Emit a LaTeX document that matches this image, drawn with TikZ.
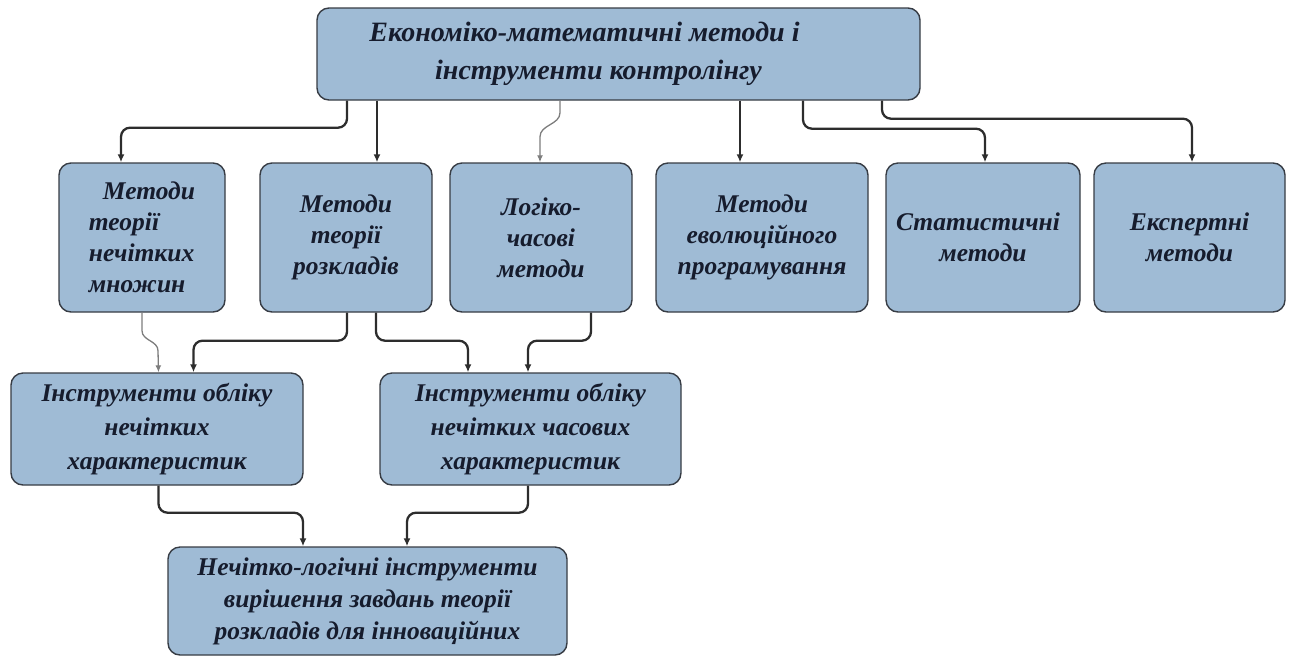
\documentclass[tikz,border=0pt]{standalone}
\usepackage{fontspec}
\setmainfont{Liberation Serif}
\usetikzlibrary{arrows.meta}
\definecolor{boxfill}{RGB}{159,187,213}
\definecolor{boxline}{RGB}{55,60,68}
\definecolor{linecol}{RGB}{45,45,45}
\definecolor{greyline}{RGB}{125,125,125}
\definecolor{textcol}{RGB}{22,28,45}
\tikzstyle{box}=[rectangle,rounded corners=12pt,draw=boxline,fill=boxfill,line width=1.4pt,inner sep=0pt,align=center,text=textcol]
\tikzstyle{rootbox}=[box,minimum width=603pt,minimum height=92pt,font=\bfseries\itshape\fontsize{28}{38}\selectfont]
\tikzstyle{method}=[box,minimum height=149pt,font=\bfseries\itshape\fontsize{25.5}{31}\selectfont]
\tikzstyle{tool}=[box,minimum height=112pt,font=\bfseries\itshape\fontsize{25.5}{34}\selectfont]
\tikzstyle{result}=[box,minimum width=399pt,minimum height=108pt,font=\bfseries\itshape\fontsize{25.5}{32}\selectfont]
\tikzstyle{edge}=[draw,linecol,line width=2.3pt,rounded corners=9pt,-{Latex[length=8pt,width=7pt]}]
\tikzstyle{greyedge}=[draw,greyline,line width=1.3pt,-{Latex[length=7pt,width=6pt]}]

\begin{document}
\begin{tikzpicture}[x=1pt,y=-1pt]
\useasboundingbox (0,0) rectangle (1292,657);

%root
    \node[rootbox] (top) at (618.5,54) {Економіко-математичні методи і\hspace*{68pt}\\інструменти контролінгу\hspace*{40pt}};

%layer 1
    \node[method,minimum width=166pt,align=left] (mfs) at (142,237.5) {\hspace*{14pt}Методи\\теорії\\нечітких\hspace*{30pt}\\множин};
    \foreach \pos/\name/\w/\txt in {{(346,237.5)/mtr/172/{Методи\\теорії\\розкладів}}, {(541,237.5)/lcm/182/{Логіко-\\часові\\методи}},
        {(762,237.5)/mep/212/{Методи\\еволюційного\\програмування}}, {(983,237.5)/stm/194/{Статистичні\hspace*{10pt}\\методи}},
        {(1189.5,237.5)/exm/191/{Експертні\\методи}}}
        \node[method,minimum width=\w pt] (\name) at \pos {\txt};

%layer 2
    \foreach \pos/\name/\w/\txt in {{(157,429)/fch/292/{Інструменти обліку\\нечітких\\характеристик}}, {(530.5,429)/ftc/301/{Інструменти обліку\\нечітких часових\\характеристик}}}
        \node[tool,minimum width=\w pt] (\name) at \pos {\txt};

%layer 3
    \node[result] (fli) at (367.5,601) {Нечітко-логічні інструменти\\вирішення завдань теорії\\розкладів для інноваційних};

% Edges
	%root to layer 1
    \path[edge] ([xshift=-271.5pt]top.south) -- ++(0,27) -| ([xshift=-21pt]mfs.north);
    \path[edge] ([xshift=-241.5pt]top.south) -- ([xshift=31pt]mtr.north);
    \path[greyedge] ([xshift=-58.5pt]top.south) -- ++(0,12) .. controls +(0,12) and +(0,-12) .. ++(-20,24) -- ([xshift=-1pt]lcm.north);
    \path[edge] ([xshift=121.5pt]top.south) -- ([xshift=-22pt]mep.north);
    \path[edge] ([xshift=184.5pt]top.south) -- ++(0,28) -| ([xshift=2pt]stm.north);
    \path[edge] ([xshift=263.5pt]top.south) -- ++(0,18) -| ([xshift=2.5pt]exm.north);
	%layer 1 to layer 2
    \path[greyedge] (mfs.south) -- ++(0,18) .. controls +(0,10) and +(0,-10) .. ++(16,20) -- ([xshift=1.5pt]fch.north);
    \path[edge] ([xshift=1pt]mtr.south) -- ++(0,28) -| ([xshift=36.5pt]fch.north);
    \path[edge] ([xshift=30pt]mtr.south) -- ++(0,28) -| ([xshift=-62.5pt]ftc.north);
    \path[edge] ([xshift=50pt]lcm.south) -- ++(0,28) -| ([xshift=-2.5pt]ftc.north);
	%layer 2 to layer 3
    \path[edge] ([xshift=1.5pt]fch.south) -- ++(0,27) -| ([xshift=-64.5pt]fli.north);
    \path[edge] ([xshift=-2.5pt]ftc.south) -- ++(0,27) -| ([xshift=39.5pt]fli.north);

\end{tikzpicture}
\end{document}
